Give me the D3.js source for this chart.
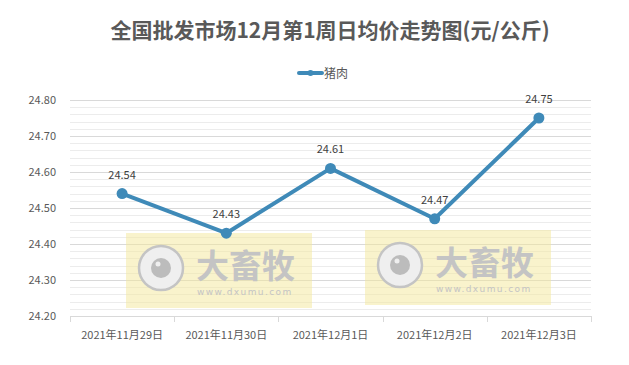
<!DOCTYPE html>
<html>
<head>
<meta charset="utf-8">
<script src="https://cdn.jsdelivr.net/npm/d3@7"></script>
<style>
  body { margin: 0; background: #fff; }
  svg { display: block; font-family: "Noto Sans CJK SC", "Microsoft YaHei", sans-serif; }
</style>
</head>
<body>
<svg width="629" height="365"></svg>
<script>
"use strict";

var dates = ["2021年11月29日", "2021年11月30日", "2021年12月1日", "2021年12月2日", "2021年12月3日"];
var pork = [24.54, 24.43, 24.61, 24.47, 24.75];
var yTicks = [24.20, 24.30, 24.40, 24.50, 24.60, 24.70, 24.80];
var seriesName = "猪肉";
var title = "全国批发市场12月第1周日均价走势图(元/公斤)";

window.onload = renderMyChart;

function renderMyChart() {
    var svg = d3.select("svg"),
        margin = { top: 100, right: 38, bottom: 49, left: 70 },
        width = +svg.attr("width") - margin.left - margin.right,
        height = +svg.attr("height") - margin.top - margin.bottom;

    var lineColor = "#3f8ab8";

    var x = d3.scaleBand().domain(dates).range([0, width]),
        y = d3.scaleLinear().domain([24.2, 24.8]).range([height, 0]);

    svg.append("text")
        .attr("x", 330).attr("y", 38)
        .attr("text-anchor", "middle")
        .attr("font-size", 21).attr("font-weight", 600)
        .attr("fill", "#595959")
        .text(title);

    // legend
    var lg = svg.append("g").attr("transform", "translate(299,73)");
    lg.append("line").attr("x1", 0).attr("x2", 23).attr("y1", 0).attr("y2", 0)
        .attr("stroke", lineColor).attr("stroke-width", 4).attr("stroke-linecap", "round");
    lg.append("circle").attr("cx", 11.5).attr("cy", 0).attr("r", 3).attr("fill", lineColor);
    lg.append("text").attr("x", 25).attr("y", 4.5)
        .attr("font-size", 12).attr("fill", "#595959").text(seriesName);

    var g = svg.append("g")
        .attr("transform", "translate(" + margin.left + "," + margin.top + ")");

    // minor gridlines
    g.selectAll(".minor")
        .data(d3.range(24.22, 24.8, 0.02).filter(function (v) { return Math.round(v * 100) % 10 !== 0; }))
        .enter().append("line")
        .attr("x1", 0).attr("x2", width)
        .attr("y1", function (d) { return Math.round(y(d)) + 0.5; })
        .attr("y2", function (d) { return Math.round(y(d)) + 0.5; })
        .attr("stroke", "#ececec");

    // major gridlines
    g.selectAll(".major")
        .data(yTicks.slice(1))
        .enter().append("line")
        .attr("x1", 0).attr("x2", width)
        .attr("y1", function (d) { return Math.round(y(d)) + 0.5; })
        .attr("y2", function (d) { return Math.round(y(d)) + 0.5; })
        .attr("stroke", "#d9d9d9");

    // watermarks
    [[56, 133], [295, 130]].forEach(function (p) {
        var w = g.append("g").attr("transform", "translate(" + p[0] + "," + p[1] + ")");
        w.append("rect").attr("width", 186).attr("height", 75)
            .attr("fill", "#f3e79a").attr("opacity", 0.5);
        w.append("circle").attr("cx", 35).attr("cy", 35).attr("r", 22)
            .attr("fill", "#efefef").attr("stroke", "#c4c4c4").attr("stroke-width", 2.5);
        w.append("circle").attr("cx", 35).attr("cy", 35).attr("r", 10).attr("fill", "#bcbcbc");
        w.append("circle").attr("cx", 32).attr("cy", 31).attr("r", 2.5).attr("fill", "#efefef");
        w.append("text").attr("x", 70).attr("y", 45)
            .attr("font-size", 33).attr("font-weight", "bold")
            .attr("fill", "#c4c4c4").text("大畜牧");
        w.append("text").attr("x", 71).attr("y", 62)
            .attr("font-size", 9).attr("letter-spacing", 1.4)
            .attr("font-family", "DejaVu Sans")
            .attr("fill", "#c4c4c4").text("www.dxumu.com");
    });

    // x axis
    var xAxis = g.append("g")
        .attr("transform", "translate(0," + height + ")")
        .call(d3.axisBottom(x).tickSize(0).tickPadding(15));
    xAxis.select(".domain").attr("stroke", "#d9d9d9");
    xAxis.selectAll("text").attr("font-size", 11).attr("fill", "#595959")
        .attr("font-family", "Noto Sans CJK SC");
    g.selectAll(".xtick")
        .data(d3.range(dates.length + 1))
        .enter().append("line")
        .attr("x1", function (i) { return Math.round(i * x.step()) + 0.5; })
        .attr("x2", function (i) { return Math.round(i * x.step()) + 0.5; })
        .attr("y1", height).attr("y2", height + 6)
        .attr("stroke", "#d9d9d9");

    // y axis
    var yAxis = g.append("g")
        .call(d3.axisLeft(y).tickValues(yTicks).tickFormat(d3.format(".2f")).tickSize(0).tickPadding(14));
    yAxis.select(".domain").remove();
    yAxis.selectAll("text").attr("font-size", 11).attr("fill", "#595959")
        .attr("font-family", "Noto Sans CJK SC");

    var cx = function (d, i) { return x(dates[i]) + x.bandwidth() / 2; };

    g.append("path")
        .datum(pork)
        .attr("fill", "none")
        .attr("stroke", lineColor)
        .attr("stroke-width", 4)
        .attr("stroke-linejoin", "round")
        .attr("d", d3.line().x(cx).y(function (d) { return y(d); }));

    g.selectAll(".dot")
        .data(pork)
        .enter().append("circle")
        .attr("cx", cx)
        .attr("cy", function (d) { return y(d); })
        .attr("r", 5.5)
        .attr("fill", lineColor);

    g.selectAll(".label")
        .data(pork)
        .enter().append("text")
        .attr("x", cx)
        .attr("y", function (d) { return y(d) - 15; })
        .attr("text-anchor", "middle")
        .attr("font-size", 11)
        .attr("fill", "#404040")
        .text(function (d) { return d.toFixed(2); });
}
</script>
</body>
</html>
